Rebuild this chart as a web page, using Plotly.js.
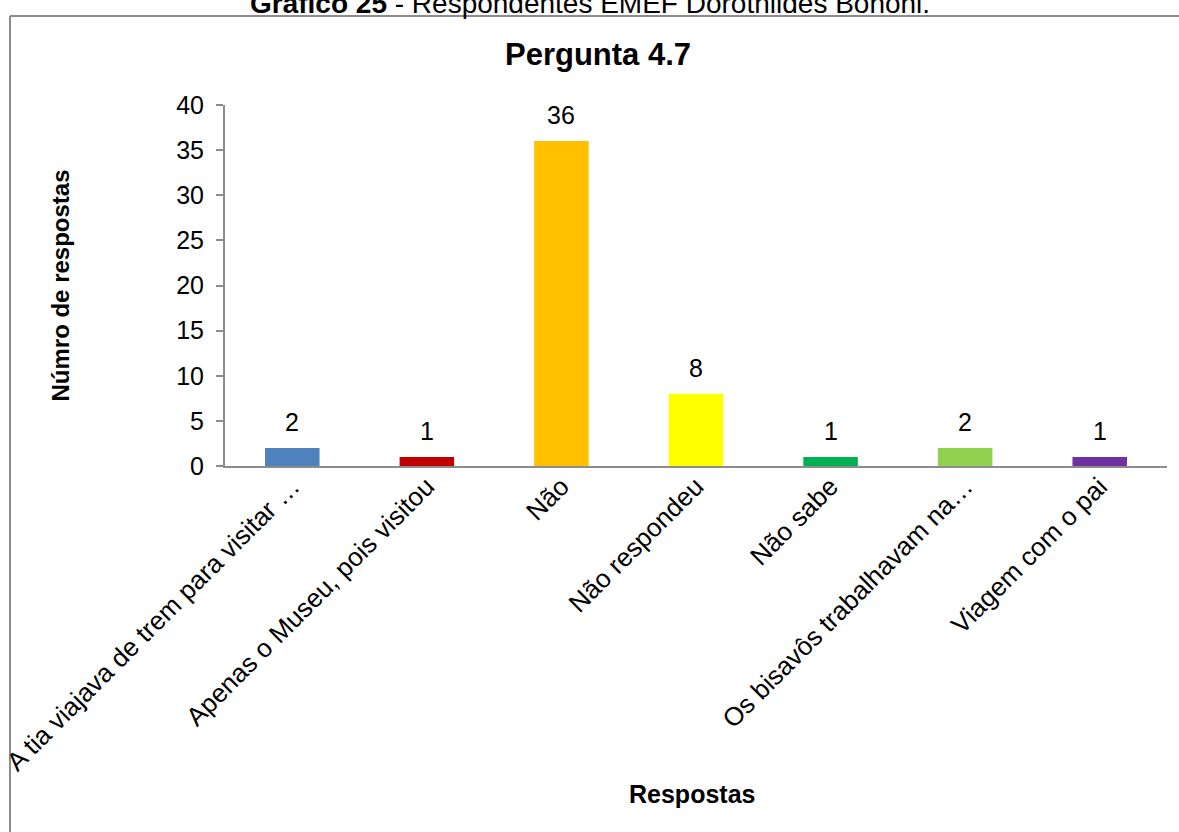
<!DOCTYPE html>
<html>
<head>
<meta charset="utf-8">
<script src="https://cdn.plot.ly/plotly-3.0.1.min.js"></script>
<style>
  html, body { margin: 0; padding: 0; background: #ffffff; }
  #chart { width: 1179px; height: 832px; }
</style>
</head>
<body>
<div id="chart"></div>
<script>
// ---- Data ----
const categories = [
  "A tia viajava de trem para visitar …",
  "Apenas o Museu, pois visitou",
  "Não",
  "Não respondeu",
  "Não sabe",
  "Os bisavôs trabalhavam na…",
  "Viagem com o pai"
];
const values = [2, 1, 36, 8, 1, 2, 1];
const barColors = ["#4F81BD", "#C00000", "#FFC000", "#FFFF00", "#00B050", "#92D050", "#7030A0"];
const yTickValues = [0, 5, 10, 15, 20, 25, 30, 35, 40];

const chartTitle = "Pergunta 4.7";
const yTitle = "Númro de respostas";
const xTitle = "Respostas";
const pageCaptionBold = "Gráfico 25";
const pageCaptionRest = " - Respondentes EMEF Dorothildes Bononi.";

const FONT = "Arial, 'Liberation Sans', sans-serif";
const frameColor = "#8c8c8c";

const trace = {
  type: "bar",
  x: categories,
  y: values,
  marker: { color: barColors, line: { width: 0 } },
  width: 0.405,
  hoverinfo: "x+y"
};

const valueAnnotations = categories.map((c, i) => ({
  x: c, y: values[i], xref: "x", yref: "y",
  text: String(values[i]),
  showarrow: false, yanchor: "middle", yshift: 26,
  font: { family: FONT, size: 25, color: "#000000" }
}));

const layout = {
  width: 1179,
  height: 832,
  paper_bgcolor: "#ffffff",
  plot_bgcolor: "#ffffff",
  margin: { l: 225, r: 12, t: 105, b: 366, pad: 0 },
  showlegend: false,
  font: { family: FONT, size: 24, color: "#000000" },
  title: {
    text: "<b>" + chartTitle + "</b>",
    font: { family: FONT, size: 31, color: "#000000" },
    x: 598 / 1179, xref: "container", xanchor: "center",
    y: 1 - 54 / 832, yref: "container", yanchor: "middle"
  },
  xaxis: {
    type: "category",
    categoryorder: "array",
    categoryarray: categories,
    range: [-0.5, categories.length - 0.5],
    tickangle: -45,
    tickfont: { family: FONT, size: 26, color: "#000000" },
    ticklabelstandoff: -7,
    showline: true, linecolor: "#8c8c8c", linewidth: 2,
    ticks: "", showgrid: false, zeroline: false,
    fixedrange: true
  },
  yaxis: {
    range: [0, 40],
    tickvals: yTickValues,
    ticktext: yTickValues.map(String),
    tickfont: { family: FONT, size: 25, color: "#000000" },
    ticklabelstandoff: 7,
    showline: true, linecolor: "#8c8c8c", linewidth: 2,
    ticks: "outside", ticklen: 7, tickwidth: 2, tickcolor: "#8c8c8c",
    showgrid: false, zeroline: false,
    title: {
      text: "<b>" + yTitle + "</b>",
      font: { family: FONT, size: 24, color: "#000000" },
      standoff: 100
    },
    fixedrange: true
  },
  annotations: valueAnnotations.concat([
    {
      text: "<b>" + xTitle + "</b>",
      xref: "paper", yref: "paper",
      x: (692 - 225) / 942, y: (466 - 794) / 361,
      xanchor: "center", yanchor: "middle", showarrow: false,
      font: { family: FONT, size: 25, color: "#000000" }
    },
    {
      text: "<b>" + pageCaptionBold + "</b>" + pageCaptionRest,
      xref: "paper", yref: "paper",
      x: (590 - 225) / 942, y: (466 - 3) / 361,
      xanchor: "center", yanchor: "middle", showarrow: false,
      font: { family: FONT, size: 28, color: "#000000" }
    }
  ]),
  shapes: [
    { type: "line", xref: "paper", yref: "paper", layer: "below",
      x0: (10 - 225) / 942, x1: (10 - 225) / 942,
      y0: (466 - 16) / 361, y1: (466 - 840) / 361,
      line: { color: frameColor, width: 2 } },
    { type: "line", xref: "paper", yref: "paper", layer: "below",
      x0: (10 - 225) / 942, x1: (1190 - 225) / 942,
      y0: (466 - 16) / 361, y1: (466 - 16) / 361,
      line: { color: frameColor, width: 2 } }
  ]
};

Plotly.newPlot("chart", [trace], layout, { displayModeBar: false, responsive: false });
</script>
</body>
</html>
